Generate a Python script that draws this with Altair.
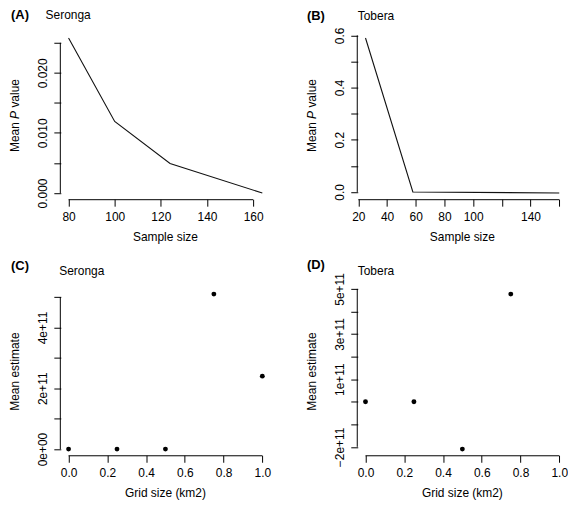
import altair as alt
import pandas as pd

FONT = "Liberation Sans"
W, H = 210, 168

# ---------------- data ----------------
A_SAMPLE = [80, 100, 124, 164]
A_PVAL = [0.0258, 0.0119, 0.0049, 0.0]
B_SAMPLE = [25, 58, 160]
B_PVAL = [0.59, 0.0, -0.004]
C_GRID = [0.0, 0.25, 0.5, 0.75, 1.0]
C_EST = [0.0, 0.0, 0.0, 5.1e11, 2.4e11]
D_GRID = [0.0, 0.25, 0.5, 0.75]
D_EST = [0.0, 0.0, -2.1e11, 4.77e11]
GRID_RANGE = [0.0, 1.0]

# ticks and labels
A_XTICKS = [80, 100, 120, 140, 160]
A_XLABELS = ["80", "100", "120", "140", "160"]
A_YTICKS = [0.0, 0.005, 0.01, 0.015, 0.02, 0.025]
A_YLABELS = ["0.000", "", "0.010", "", "0.020", ""]
B_XTICKS = [20, 40, 60, 80, 100, 120, 140, 160]
B_XLABELS = ["20", "40", "60", "80", "100", "", "140", ""]
B_YTICKS = [0.0, 0.1, 0.2, 0.3, 0.4, 0.5, 0.6]
B_YLABELS = ["0.0", "", "0.2", "", "0.4", "", "0.6"]
G_XTICKS = [0.0, 0.2, 0.4, 0.6, 0.8, 1.0]
G_XLABELS = ["0.0", "0.2", "0.4", "0.6", "0.8", "1.0"]
C_YTICKS = [0.0, 1e11, 2e11, 3e11, 4e11, 5e11]
C_YLABELS = ["0e+00", "", "2e+11", "", "4e+11", ""]
D_YTICKS = [-2e11, -1e11, 0.0, 1e11, 2e11, 3e11, 4e11, 5e11]
D_YLABELS = ["\u22122e+11", "", "", "1e+11", "", "3e+11", "", "5e+11"]

TAGS = ["(A)", "(B)", "(C)", "(D)"]
SITES = ["Seronga", "Tobera", "Seronga", "Tobera"]
X_TITLES = ["Sample size", "Sample size", "Grid size (km2)", "Grid size (km2)"]
PVAL_TITLE = ["Mean", "P", "value"]
EST_TITLE = "Mean estimate"


def rlim(vals):
    lo, hi = min(vals), max(vals)
    p = 0.04 * (hi - lo)
    return [lo - p, hi + p]


def label_expr(values, labels):
    vals = ",".join(repr(float(v)) for v in values)
    labs = ",".join("'" + l + "'" for l in labels)
    return f"[{labs}][indexof([{vals}], datum.value)]"


def txt(s, x, y, **kw):
    params = dict(font=FONT, fontSize=12, color="#000000")
    params.update(kw)
    return alt.Chart(pd.DataFrame({"t": [s]})).mark_text(**params).encode(
        x=alt.value(x), y=alt.value(y), text="t:N"
    )


def panel(xs, ys, kind, xlim, ylim, xticks, xlabels, yticks, ylabels,
          idx, tag_pos, site_pos, ytitle):
    data = pd.DataFrame({"x": xs, "y": ys})
    xscale = alt.Scale(domain=xlim, nice=False, zero=False)
    yscale = alt.Scale(domain=ylim, nice=False, zero=False)
    common = dict(title=None, domain=False, grid=False, tickSize=7,
                  tickColor="#000000", tickWidth=1, labelFont=FONT,
                  labelFontSize=12, labelColor="#000000", labelFlush=False,
                  labelOverlap=False, labelBound=False)
    xaxis = alt.Axis(values=xticks, labelExpr=label_expr(xticks, xlabels),
                     labelPadding=5, labelAngle=0, **common)
    yaxis = alt.Axis(values=yticks, labelExpr=label_expr(yticks, ylabels),
                     labelAngle=270, labelAlign="center", labelBaseline="bottom",
                     labelPadding=4, **common)
    enc = dict(x=alt.X("x:Q", scale=xscale, axis=xaxis),
               y=alt.Y("y:Q", scale=yscale, axis=yaxis))
    if kind == "line":
        main = alt.Chart(data).mark_line(color="#111111", strokeWidth=1.1).encode(**enc)
    else:
        main = alt.Chart(data).mark_circle(color="#000000", size=24, opacity=1).encode(**enc)

    xline = alt.Chart(pd.DataFrame({"a": [xticks[0]], "b": [xticks[-1]]})).mark_rule(
        color="#000000", strokeWidth=1).encode(
        x=alt.X("a:Q", scale=xscale, axis=xaxis), x2="b:Q", y=alt.value(H + 0.5))
    yline = alt.Chart(pd.DataFrame({"a": [yticks[0]], "b": [yticks[-1]]})).mark_rule(
        color="#000000", strokeWidth=1).encode(
        y=alt.Y("a:Q", scale=yscale, axis=yaxis), y2="b:Q", x=alt.value(-0.5))

    layers = [main, xline, yline]
    layers.append(txt(TAGS[idx], tag_pos[0], tag_pos[1], align="left",
                      baseline="middle", fontWeight="bold", fontSize=13))
    layers.append(txt(SITES[idx], site_pos[0], site_pos[1], align="left",
                      baseline="middle"))
    layers.append(txt(X_TITLES[idx], W / 2, H + 38, align="center",
                      baseline="middle"))
    c = H / 2
    if ytitle == "p":
        layers.append(txt(PVAL_TITLE[0], -46, c + 36.7, align="left",
                          baseline="middle", angle=270))
        layers.append(txt(PVAL_TITLE[1], -46, c + 3.4, align="left",
                          baseline="middle", angle=270, fontStyle="italic"))
        layers.append(txt(PVAL_TITLE[2], -46, c - 7.9, align="left",
                          baseline="middle", angle=270))
    else:
        layers.append(txt(EST_TITLE, -46, c, align="center",
                          baseline="middle", angle=270))
    return alt.layer(*layers).properties(width=W, height=H)


pA = panel(A_SAMPLE, A_PVAL, "line", rlim(A_SAMPLE), rlim(A_PVAL),
           A_XTICKS, A_XLABELS, A_YTICKS, A_YLABELS, 0,
           (-50, -16.5), (-15.3, -16.5), "p")
pB = panel(B_SAMPLE, B_PVAL, "line", rlim(B_SAMPLE), rlim(B_PVAL),
           B_XTICKS, B_XLABELS, B_YTICKS, B_YLABELS, 1,
           (-51, -15.5), (0, -15.5), "p")
pC = panel(C_GRID, C_EST, "point", rlim(GRID_RANGE), rlim(C_EST),
           G_XTICKS, G_XLABELS, C_YTICKS, C_YLABELS, 2,
           (-50, -22), (-1.6, -17), "e")
pD = panel(D_GRID, D_EST, "point", rlim(GRID_RANGE), rlim(D_EST),
           G_XTICKS, G_XLABELS, D_YTICKS, D_YLABELS, 3,
           (-51, -23), (0, -17), "e")

chart = alt.ConcatChart(concat=[pA, pB, pC, pD], columns=2,
                        spacing={"row": 89, "column": 88}, bounds="flush",
                        padding=0, background="white").configure_view(stroke=None)

chart.save("out.html", embed_options={"renderer": "svg", "actions": False})
